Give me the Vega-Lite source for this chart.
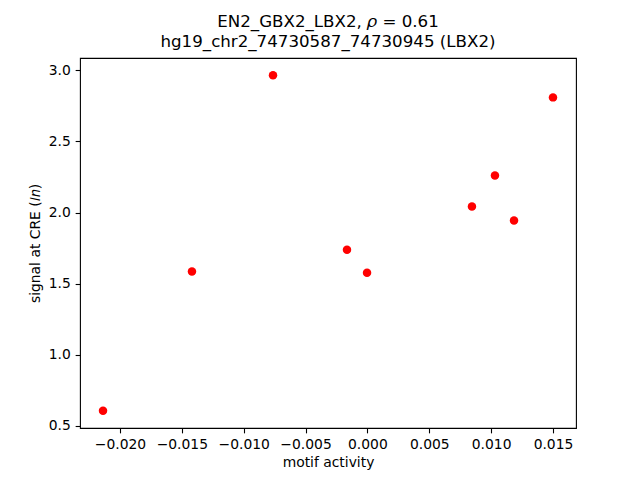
{
  "$schema": "https://vega.github.io/schema/vega-lite/v6.json",
  "width": 496,
  "height": 370,
  "autosize": {"type": "none"},
  "padding": {"left": 80, "top": 58, "right": 64, "bottom": 52},
  "background": "white",
  "title": {
    "text": ["EN2_GBX2_LBX2, 𝜌 = 0.61", "hg19_chr2_74730587_74730945 (LBX2)"],
    "fontSize": 16.67,
    "fontWeight": "normal",
    "font": "DejaVu Sans",
    "color": "black",
    "anchor": "middle",
    "offset": 7,
    "lineHeight": 20
  },
  "config": {
    "view": {"stroke": "black", "strokeWidth": 1.1},
    "axis": {
      "grid": false,
      "domain": false,
      "tickColor": "black",
      "tickSize": 4.86,
      "tickWidth": 1.1,
      "labelFont": "DejaVu Sans",
      "labelFontSize": 13.89,
      "labelColor": "black",
      "titleFont": "DejaVu Sans",
      "titleFontSize": 13.89,
      "titleFontWeight": "normal",
      "titleColor": "black",
      "labelPadding": 4.86
    }
  },
  "data": {
    "values": [
      {"motif": -0.02137, "signal": 0.606},
      {"motif": -0.01418, "signal": 1.585},
      {"motif": -0.00763, "signal": 2.965},
      {"motif": -0.00165, "signal": 1.739},
      {"motif": -0.00003, "signal": 1.577},
      {"motif": 0.00845, "signal": 2.042},
      {"motif": 0.01031, "signal": 2.261},
      {"motif": 0.01185, "signal": 1.944},
      {"motif": 0.0150, "signal": 2.810}
    ]
  },
  "mark": {"type": "point", "filled": true, "color": "#ff0000", "opacity": 1, "size": 72},
  "encoding": {
    "x": {
      "field": "motif",
      "type": "quantitative",
      "title": "motif activity",
      "scale": {"domain": [-0.02323, 0.01686], "nice": false, "zero": false},
      "axis": {"values": [-0.02, -0.015, -0.01, -0.005, 0, 0.005, 0.01, 0.015], "format": ".3f", "titlePadding": 4}
    },
    "y": {
      "field": "signal",
      "type": "quantitative",
      "title": "signal at CRE (𝑙𝑛)",
      "scale": {"domain": [0.4845, 3.087], "nice": false, "zero": false},
      "axis": {"values": [0.5, 1.0, 1.5, 2.0, 2.5, 3.0], "format": ".1f", "titlePadding": 6}
    }
  }
}
